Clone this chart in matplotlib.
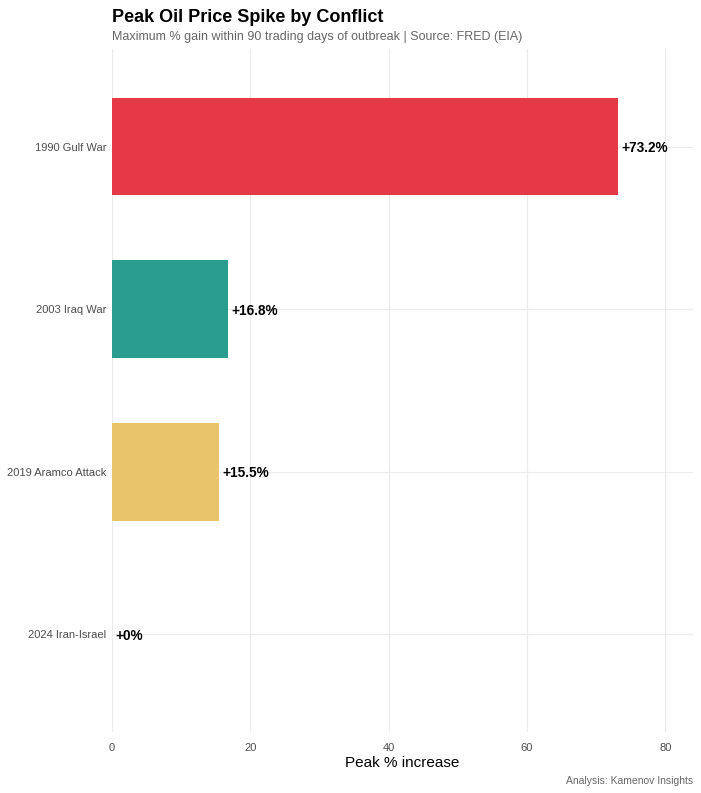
import matplotlib
matplotlib.use("Agg")
import matplotlib.pyplot as plt

plt.rcParams['font.family'] = ['Liberation Sans', 'DejaVu Sans']

conflicts = ["1990 Gulf War", "2003 Iraq War", "2019 Aramco Attack", "2024 Iran-Israel"]
peak_gain = [73.2, 16.8, 15.5, 0.0]
labels = ["+73.2%", "+16.8%", "+15.5%", "+0%"]
colors = ["#E63946", "#2A9D8F", "#E9C46A", "#264653"]
xticks = [0, 20, 40, 60, 80]

W, H = 701, 793
fig = plt.figure(figsize=(W / 100, H / 100), dpi=100)
ax = fig.add_axes([112 / W, 1 - 732 / H, (693 - 112) / W, (732 - 49) / H])

ypos = list(range(len(conflicts)))
ax.barh(ypos, peak_gain, height=0.6, color=colors, zorder=2)
for y, v, lab in zip(ypos, peak_gain, labels):
    ax.annotate(lab, (v, y), xytext=(2.5, 0), textcoords="offset points",
                ha="left", va="center_baseline", fontsize=9.8, fontweight="bold",
                color="black", zorder=3)

ax.set_xlim(0, 84.0)
ax.set_ylim(3.6, -0.6)
ax.set_yticks(ypos)
ax.set_yticklabels(conflicts, va="center_baseline")
ax.set_xticks(xticks)
ax.set_xticklabels([str(t) for t in xticks])
ax.tick_params(axis="both", length=0, labelsize=8, labelcolor="#4D4D4D")
ax.tick_params(axis="x", pad=8)
ax.tick_params(axis="y", pad=4)
ax.grid(True, color="#EBEBEB", linewidth=0.8, zorder=0)
ax.set_axisbelow(True)
for s in ax.spines.values():
    s.set_visible(False)
ax.set_xlabel("Peak % increase", fontsize=11, color="black", labelpad=2)

fig.text(112 / W, 1 - 17 / H, "Peak Oil Price Spike by Conflict", fontsize=13,
         fontweight="bold", ha="left", va="center", color="black")
fig.text(112 / W, 1 - 37 / H, "Maximum % gain within 90 trading days of outbreak | Source: FRED (EIA)",
         fontsize=9, ha="left", va="center", color="#666666")
fig.text(693 / W, 1 - 781 / H, "Analysis: Kamenov Insights", fontsize=7.5,
         ha="right", va="center", color="#666666")

fig.savefig("out.png", dpi=100, facecolor="white")
